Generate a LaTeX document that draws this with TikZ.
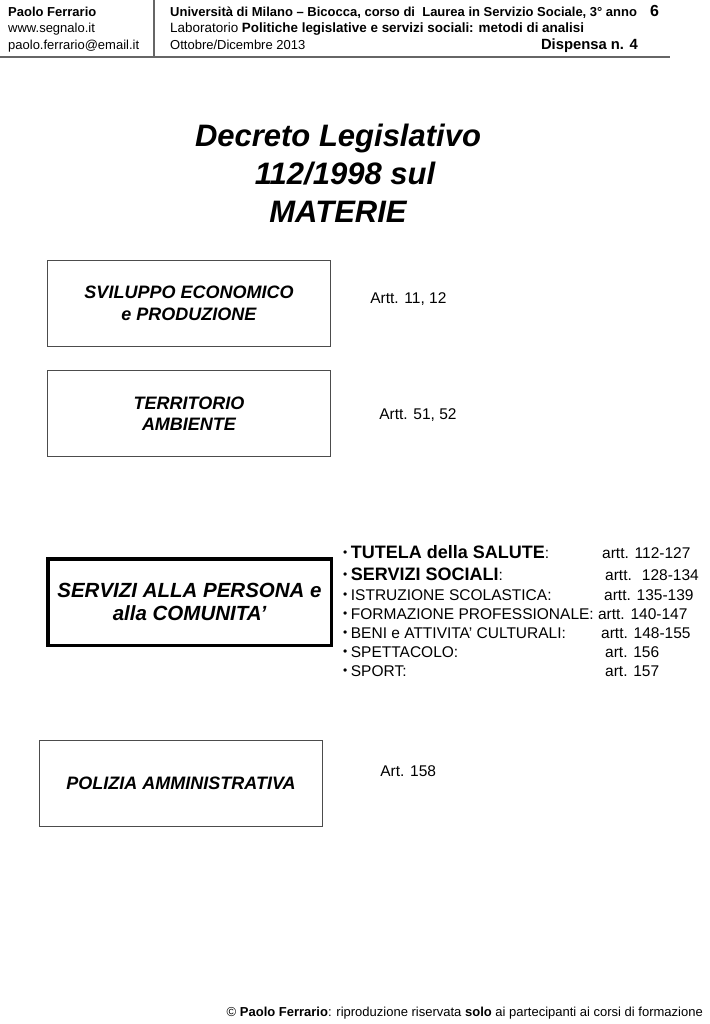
\documentclass[tikz,border=0pt]{standalone}
\usepackage{fontspec}
\setmainfont{Liberation Sans}
\usetikzlibrary{positioning}

\newcommand{\fsz}[2]{\fontsize{#1}{#2}\selectfont}
\newcommand{\pt}{\raisebox{1.2pt}{\fsz{12}{12}\textbullet}\hspace{3.5pt}}

\begin{document}
\begin{tikzpicture}[
  x=1pt, y=-1pt,
  node distance = 39pt,
  box/.style = {
    rectangle, draw=black!70, line width=1.2pt,
    minimum width=283pt, minimum height=86pt,
    align=center, font=\fsz{18}{21.5}\bfseries\itshape
  },
  bigbox/.style = {
    box, draw=black, line width=3.5pt,
    minimum width=283.5pt, minimum height=86.5pt,
    font=\fsz{20.5}{22.5}\bfseries\itshape
  },
  artt/.style = {font=\fsz{15.5}{18}, inner sep=0pt},
  voce/.style = {font=\fsz{15.5}{18}, anchor=base west, inner sep=0pt},
  head/.style = {font=\fsz{13}{16.5}, anchor=base west, inner sep=0pt},
  rule/.style = {draw=black!60, line width=1.4pt}
]
\useasboundingbox (0,0) rectangle (709,1024);

% intestazione
\node[head] (autore) at (8,16.5) {\textbf{Paolo Ferrario}};
\node[head] (sito)   at (8,33)   {www.segnalo.it};
\node[head] (email)  at (8,49.5) {paolo.ferrario@email.it};
\node[head] (corso) at (170,16.5)
  {\textbf{Università di Milano – Bicocca, corso di \ Laurea in Servizio Sociale, 3° anno}};
\node[head, font=\fsz{13.45}{16.5}] (lab) at (170,33)
  {Laboratorio \textbf{Politiche legislative e servizi sociali: metodi di analisi}};
\node[head] (data) at (170,49.5) {Ottobre/Dicembre 2013};
\node[head, anchor=base east, font=\fsz{14.8}{16}\bfseries] (dispensa) at (638,49.5) {Dispensa n. 4};
\node[head, font=\fsz{16}{16}\bfseries] (pagina) at (650,17) {6};
\draw[rule] (154,0) -- (154,57);
\draw[rule] (0,57) -- (670,57);

% titolo
\node[font=\fsz{31}{38}\bfseries\itshape, align=center] (titolo) at (338,173)
  {Decreto Legislativo\\\hspace*{14pt}112/1998 sul\\MATERIE};

% materie
\node[box]    (sviluppo)   at (189,303.5) {SVILUPPO ECONOMICO\\e PRODUZIONE};
\node[box]    (territorio) at (189,413.5) {TERRITORIO\\AMBIENTE};
\node[bigbox] (servizi)    at (189.5,602) {SERVIZI ALLA PERSONA e\\alla COMUNITA’};
\node[box]    (polizia)    at (181,783.5) {POLIZIA AMMINISTRATIVA};

\node[artt, right=39pt of sviluppo, yshift=4pt]    (artSviluppo)   {Artt. 11, 12};
\node[artt, right=48pt of territorio, yshift=-2pt] (artTerritorio) {Artt. 51, 52};
\node[artt, right=57pt of polizia, yshift=12pt]    (artPolizia)    {Art. 158};

% voci dei servizi alla persona
\node[voce] (salute)     at (343,558) {\pt\textbf{\fsz{18}{18}TUTELA della SALUTE}:};
\node[voce] (sociali)    at (343,580) {\pt\textbf{\fsz{18}{18}SERVIZI SOCIALI}:};
\node[voce] (istruzione) at (343,600) {\pt ISTRUZIONE SCOLASTICA:};
\node[voce] (formazione) at (343,619) {\pt FORMAZIONE PROFESSIONALE: artt. 140-147};
\node[voce] (beni)       at (343,638) {\pt BENI e ATTIVITA’ CULTURALI:};
\node[voce] (spettacolo) at (343,657) {\pt SPETTACOLO:};
\node[voce] (sport)      at (343,676) {\pt SPORT:};

\node[voce] (artSalute)     at (602,558) {artt. 112-127};
\node[voce] (artSociali)    at (605,580) {artt. \ 128-134};
\node[voce] (artIstruzione) at (604,600) {artt. 135-139};
\node[voce] (artBeni)       at (601,638) {artt. 148-155};
\node[voce] (artSpettacolo) at (605,657) {art. 156};
\node[voce] (artSport)      at (605,676) {art. 157};

% piede
\node[head, anchor=base east] (piede) at (703,1016)
  {© \textbf{Paolo Ferrario}: riproduzione riservata \textbf{solo} ai partecipanti ai corsi di formazione};
\end{tikzpicture}
\end{document}
